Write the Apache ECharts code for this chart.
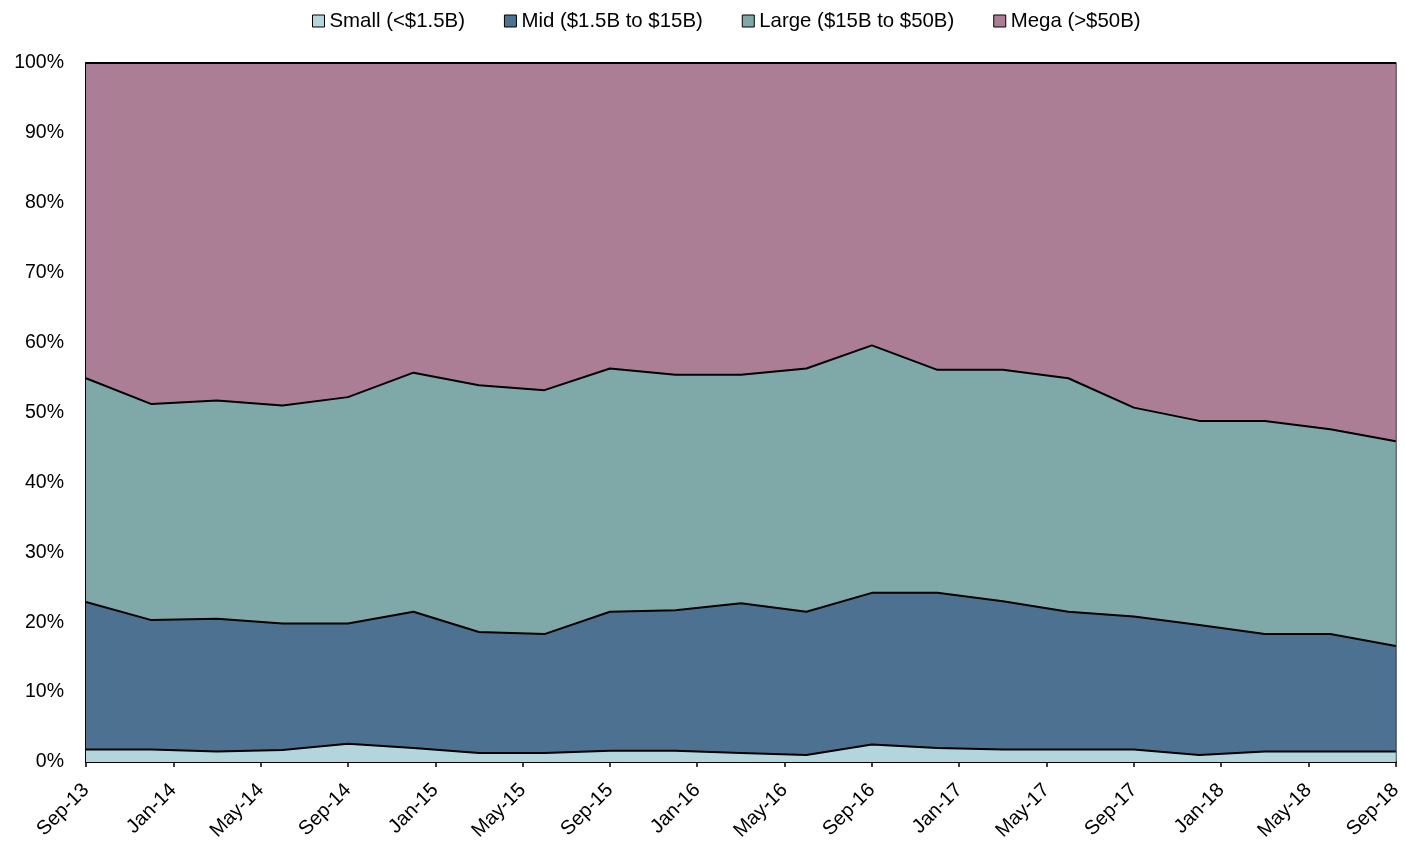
<!DOCTYPE html>
<html>
<head>
<meta charset="utf-8">
<script src="https://cdn.jsdelivr.net/npm/echarts@6/dist/echarts.min.js"></script>
<style>
  html, body { margin: 0; padding: 0; background: #ffffff; }
  #chart { width: 1405px; height: 845px; }
</style>
</head>
<body>
<div id="chart"></div>
<script>
// Quarter-end observations, Sep-13 through Sep-18
const quarters = ['Sep-13', 'Dec-13', 'Mar-14', 'Jun-14', 'Sep-14', 'Dec-14', 'Mar-15', 'Jun-15',
                  'Sep-15', 'Dec-15', 'Mar-16', 'Jun-16', 'Sep-16', 'Dec-16', 'Mar-17', 'Jun-17',
                  'Sep-17', 'Dec-17', 'Mar-18', 'Jun-18', 'Sep-18'];

// Share of total (%) by market-cap bucket
const smallShare = [1.8, 1.8, 1.5, 1.7, 2.6, 2.0, 1.3, 1.3, 1.6, 1.6, 1.3, 1.0, 2.5, 2.0, 1.8, 1.8, 1.8, 1.0, 1.5, 1.5, 1.5];
const midShare   = [21.1, 18.5, 19.0, 18.1, 17.2, 19.5, 17.3, 17.0, 19.9, 20.1, 21.4, 20.5, 21.7, 22.2, 21.2, 19.7, 19.0, 18.6, 16.8, 16.8, 15.1];
const largeShare = [32.0, 30.9, 31.2, 31.2, 32.4, 34.2, 35.3, 34.9, 34.8, 33.7, 32.7, 34.8, 35.4, 31.9, 33.1, 33.4, 29.9, 29.2, 30.5, 29.3, 29.3];
const megaShare  = [45.1, 48.8, 48.3, 49.0, 47.8, 44.3, 46.1, 46.8, 43.7, 44.6, 44.6, 43.7, 40.4, 43.9, 43.9, 45.1, 49.3, 51.2, 51.2, 52.4, 54.1];

// Axis labels run every four months from Sep-13 to Sep-18
const tickLabels = ['Sep-13', 'Jan-14', 'May-14', 'Sep-14', 'Jan-15', 'May-15', 'Sep-15', 'Jan-16',
                    'May-16', 'Sep-16', 'Jan-17', 'May-17', 'Sep-17', 'Jan-18', 'May-18', 'Sep-18'];

const seriesNames = ['Small (<$1.5B)', 'Mid ($1.5B to $15B)', 'Large ($15B to $50B)', 'Mega (>$50B)'];
const seriesColors = ['#b2d6dc', '#4d7291', '#7ea9a8', '#ac7e96'];

const FONT = '"Liberation Sans", Arial, sans-serif';
const allShares = [smallShare, midShare, largeShare, megaShare];

const chart = echarts.init(document.getElementById('chart'), null, { renderer: 'canvas' });

chart.setOption({
  backgroundColor: '#ffffff',
  animation: false,
  legend: {
    top: 6,
    left: 307,
    itemWidth: 12,
    itemHeight: 12,
    itemGap: 39,
    icon: 'rect',
    itemStyle: { borderColor: '#000000', borderWidth: 1 },
    textStyle: { fontFamily: FONT, fontSize: 20.4, color: '#000000' },
    data: seriesNames
  },
  grid: {
    left: 86,
    right: 9,
    top: 63,
    bottom: 83,
    show: true,
    borderColor: '#000000',
    borderWidth: 1.5,
    backgroundColor: 'transparent'
  },
  xAxis: [
    {
      // quarterly positions the areas are drawn on
      type: 'category',
      data: quarters,
      boundaryGap: false,
      show: false
    },
    {
      // month scale carrying the visible ticks and labels
      type: 'value',
      min: 0,
      max: tickLabels.length - 1,
      interval: 1,
      position: 'bottom',
      axisLine: { show: true, lineStyle: { color: '#000000', width: 2 } },
      axisTick: { show: true, length: 5, lineStyle: { color: '#000000', width: 1.5 } },
      splitLine: { show: false },
      axisLabel: {
        rotate: 45,
        margin: 25,
        fontFamily: FONT,
        fontSize: 20,
        color: '#000000',
        showMinLabel: true,
        showMaxLabel: true,
        formatter: v => tickLabels[Math.round(v)]
      }
    }
  ],
  yAxis: {
    type: 'value',
    min: 0,
    max: 100,
    interval: 10,
    axisLine: { show: true, lineStyle: { color: '#000000', width: 2 } },
    axisTick: { show: false },
    splitLine: { show: false },
    axisLabel: {
      margin: 22,
      fontFamily: FONT,
      fontSize: 19.5,
      color: '#000000',
      formatter: '{value}%'
    }
  },
  series: allShares.map((vals, i) => ({
    name: seriesNames[i],
    type: 'line',
    xAxisIndex: 0,
    stack: 'total',
    data: vals,
    showSymbol: false,
    symbol: 'none',
    color: seriesColors[i],
    lineStyle: { color: '#000000', width: 2 },
    itemStyle: { color: seriesColors[i], borderColor: '#000000' },
    areaStyle: { color: seriesColors[i], opacity: 1 },
    z: 2
  }))
});
</script>
</body>
</html>
